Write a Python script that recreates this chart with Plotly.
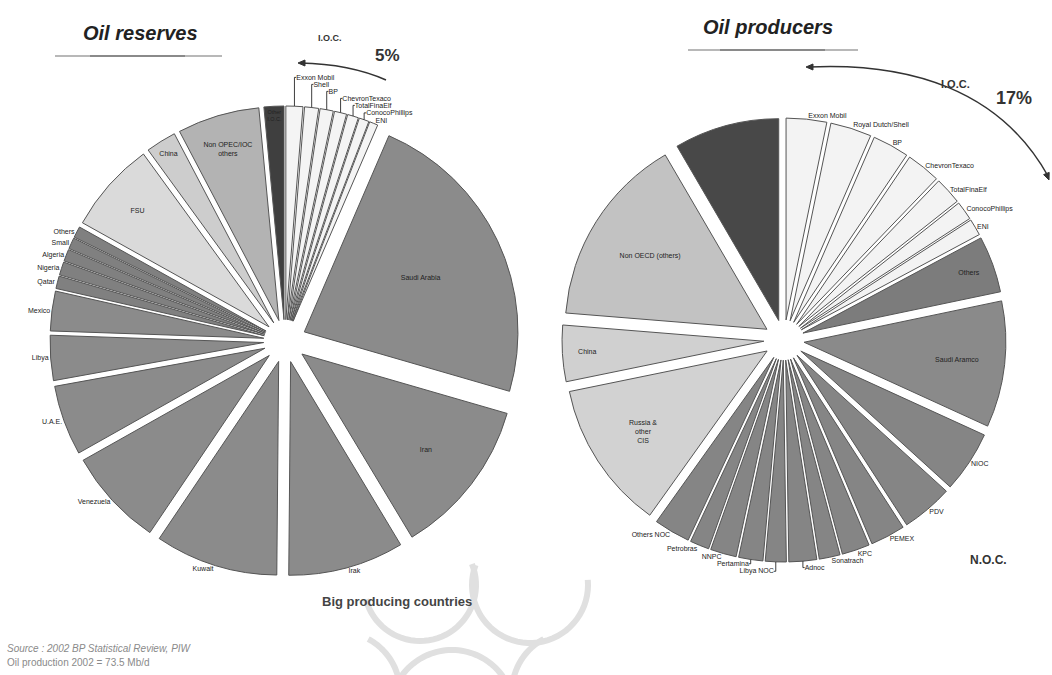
import math
import plotly.graph_objects as go

W, H = 1052, 675

# ---------------- data ----------------
res_labels = ["Exxon Mobil", "Shell", "BP", "ChevronTexaco", "TotalFinaElf", "ConocoPhillips", "ENI",
              "Saudi Arabia", "Iran", "Irak", "Kuwait", "Venezuela", "U.A.E.", "Libya", "Mexico",
              "Qatar", "Nigeria", "Algeria", "Small", "Others",
              "FSU", "China", "Non OPEC/IOC others", "Other I.O.C."]
res_values = [1.28, 1.06, 1.0, 0.92, 0.83, 0.75, 0.64,
              23.0, 11.9, 8.75, 9.3, 7.4, 5.3, 3.4, 3.0,
              0.95, 1.0, 0.9, 0.85, 0.85,
              6.9, 2.3, 6.2, 1.5]
res_groups = ["IOC"] * 7 + ["big"] * 8 + ["small"] * 5 + ["FSU", "China", "nonopec", "otherioc"]
res_inside = ["Saudi Arabia", "Iran", "FSU", "China", "Non OPEC/IOC others", "Other I.O.C."]

prod_labels = ["Exxon Mobil", "Royal Dutch/Shell", "BP", "ChevronTexaco", "TotalFinaElf", "ConocoPhillips", "ENI",
               "Others", "Saudi Aramco", "NIOC", "PDV", "PEMEX", "KPC", "Sonatrach", "Adnoc", "Libya NOC",
               "Pertamina", "NNPC", "Petrobras", "Others NOC",
               "Russia & other CIS", "China", "Non OECD (others)", "OECD"]
prod_values = [3.24, 3.29, 2.92, 2.72, 2.17, 1.5, 1.33,
               4.53, 10.1, 4.92, 4.11, 2.78, 2.22, 1.67, 2.22, 1.67,
               1.94, 2.08, 1.53, 2.89,
               11.9, 4.5, 15.3, 8.4]
prod_groups = ["IOC"] * 7 + ["others", "big"] + ["noc"] * 11 + ["russia", "China", "nonoecd", "dark"]
prod_inside = ["Others", "Saudi Aramco", "Russia & other CIS", "China", "Non OECD (others)", "OECD"]

# ---------------- styles ----------------
res_colmap = {"IOC": "#f4f4f4", "big": "#8b8b8b", "small": "#808080", "FSU": "#dadada",
              "China": "#cdcdcd", "nonopec": "#b3b3b3", "otherioc": "#3f3f3f"}
prod_colmap = {"IOC": "#f3f3f3", "others": "#7c7c7c", "big": "#8a8a8a", "noc": "#858585",
               "russia": "#d2d2d2", "China": "#d0d0d0", "nonoecd": "#c2c2c2", "dark": "#484848"}


def px(x):
    return x / W


def py(y):
    return 1 - y / H


def pie_text(labels, inside):
    txt, pos = [], []
    for lab in labels:
        if lab == "OECD":
            txt.append("")
            pos.append("inside")
            continue
        t = lab.replace("Non OPEC/IOC others", "Non OPEC/IOC<br>others") \
               .replace("Russia & other CIS", "Russia &<br>other<br>CIS") \
               .replace("Other I.O.C.", "Other<br>I.O.C.")
        txt.append(t)
        pos.append("inside" if lab in inside else "outside")
    return txt, pos


fig = go.Figure()

L_CX, L_CY, L_R = 285, 341, 235
R_CX, R_CY, R_R = 784, 340, 222

rt, rp = pie_text(res_labels, res_inside)
fig.add_trace(go.Pie(
    labels=res_labels, values=res_values, sort=False, direction="clockwise", rotation=0,
    text=rt, textinfo="text", textposition=rp, insidetextorientation="horizontal",
    marker=dict(colors=[res_colmap[g] for g in res_groups], line=dict(color="#555555", width=1)),
    pull=[0.1] * len(res_values),
    domain=dict(x=[px(L_CX - L_R), px(L_CX + L_R)], y=[py(L_CY + L_R), py(L_CY - L_R)]),
    textfont=dict(size=7, color="#222222", family="Arial"),
    showlegend=False, hoverinfo="label+value",
))

pt, pp = pie_text(prod_labels, prod_inside)
fig.add_trace(go.Pie(
    labels=prod_labels, values=prod_values, sort=False, direction="clockwise", rotation=0,
    text=pt, textinfo="text", textposition=pp, insidetextorientation="horizontal",
    marker=dict(colors=[prod_colmap[g] for g in prod_groups], line=dict(color="#555555", width=1)),
    pull=[0.1] * len(prod_values),
    domain=dict(x=[px(R_CX - R_R), px(R_CX + R_R)], y=[py(R_CY + R_R), py(R_CY - R_R)]),
    textfont=dict(size=7, color="#222222", family="Arial"),
    showlegend=False, hoverinfo="label+value",
))

shapes = []


def arc_path(cx, cy, r, t0, t1, n=40):
    pts = []
    for i in range(n + 1):
        t = math.radians(t0 + (t1 - t0) * i / n)
        pts.append((cx + r * math.cos(t), cy + r * math.sin(t)))
    return "M " + " L ".join("%.5f,%.5f" % (px(x), py(y)) for x, y in pts)


# faint watermark arcs (decoration)
for cx, cy, r, t0, t1 in [(420, 585, 56, -22, 165), (530, 585, 58, -5, 200),
                          (452, 712, 62, -150, -30), (340, 692, 60, -62, -10),
                          (572, 692, 60, -170, -118)]:
    shapes.append(dict(type="path", xref="paper", yref="paper", path=arc_path(cx, cy, r, t0, t1),
                       line=dict(color="#e0e0e0", width=6), layer="below"))

# title underlines
shapes.append(dict(type="line", xref="paper", yref="paper", x0=px(55), y0=py(56), x1=px(222), y1=py(56),
                   line=dict(color="#b8b8b8", width=2)))
shapes.append(dict(type="line", xref="paper", yref="paper", x0=px(90), y0=py(56), x1=px(185), y1=py(56),
                   line=dict(color="#8a8a8a", width=2)))
shapes.append(dict(type="line", xref="paper", yref="paper", x0=px(688), y0=py(50), x1=px(858), y1=py(50),
                   line=dict(color="#b8b8b8", width=2)))
shapes.append(dict(type="line", xref="paper", yref="paper", x0=px(720), y0=py(50), x1=px(825), y1=py(50),
                   line=dict(color="#8a8a8a", width=2)))


def path_q(p0, c, p1):
    return "M %.5f,%.5f Q %.5f,%.5f %.5f,%.5f" % (px(p0[0]), py(p0[1]), px(c[0]), py(c[1]), px(p1[0]), py(p1[1]))


def path_c(p0, c1, c2, p1):
    return "M %.5f,%.5f C %.5f,%.5f %.5f,%.5f %.5f,%.5f" % (
        px(p0[0]), py(p0[1]), px(c1[0]), py(c1[1]), px(c2[0]), py(c2[1]), px(p1[0]), py(p1[1]))


# I.O.C. arrows
shapes.append(dict(type="path", xref="paper", yref="paper", path=path_q((300, 63), (350, 64), (386, 80)),
                   line=dict(color="#333333", width=1.5)))
shapes.append(dict(type="path", xref="paper", yref="paper", path=path_c((808, 67), (910, 62), (1000, 90), (1048, 176)),
                   line=dict(color="#333333", width=1.5)))


def tri(tip, d):
    dx, dy = d
    n = math.hypot(dx, dy)
    ux, uy = dx / n, dy / n
    bx, by = tip[0] - ux * 7, tip[1] - uy * 7
    lx, ly = bx - uy * 3, by + ux * 3
    rx, ry = bx + uy * 3, by - ux * 3
    return "M %.5f,%.5f L %.5f,%.5f L %.5f,%.5f Z" % (px(tip[0]), py(tip[1]), px(lx), py(ly), px(rx), py(ry))


for tip, d in [((298, 63), (-1, 0)), ((806, 67), (-1, 0)), ((1049, 180), (0.4, 1))]:
    shapes.append(dict(type="path", xref="paper", yref="paper", path=tri(tip, d),
                       fillcolor="#333333", line=dict(color="#333333", width=1)))

ann = []


def text(x, y, s, size, bold=False, italic=False, color="#222222", anchor="center"):
    if bold:
        s = "<b>%s</b>" % s
    if italic:
        s = "<i>%s</i>" % s
    ann.append(dict(x=px(x), y=py(y), xref="paper", yref="paper", text=s, showarrow=False,
                    xanchor=anchor, yanchor="middle", font=dict(size=size, color=color, family="Arial")))


text(140, 33, "Oil reserves", 20, bold=True, italic=True)
text(768, 27, "Oil producers", 20, bold=True, italic=True)
text(330, 38, "I.O.C.", 9, bold=True, color="#333333")
text(387, 55, "5%", 17, bold=True, color="#333333")
text(955, 84, "I.O.C.", 11, bold=True, color="#333333")
text(1014, 98, "17%", 18, bold=True, color="#333333")
text(988, 560, "N.O.C.", 12, bold=True, color="#333333")
text(397, 601, "Big producing countries", 13, bold=True, color="#444444")
text(5, 648, "Source : 2002 BP Statistical Review, PIW", 10, italic=True, color="#8a8a8a", anchor="left")
text(5, 662, "Oil production 2002 = 73.5 Mb/d", 10, color="#8a8a8a", anchor="left")

fig.update_layout(width=W, height=H, margin=dict(l=0, r=0, t=0, b=0, autoexpand=False),
                  paper_bgcolor="white", plot_bgcolor="white",
                  shapes=shapes, annotations=ann)

fig.write_html("out.html")
